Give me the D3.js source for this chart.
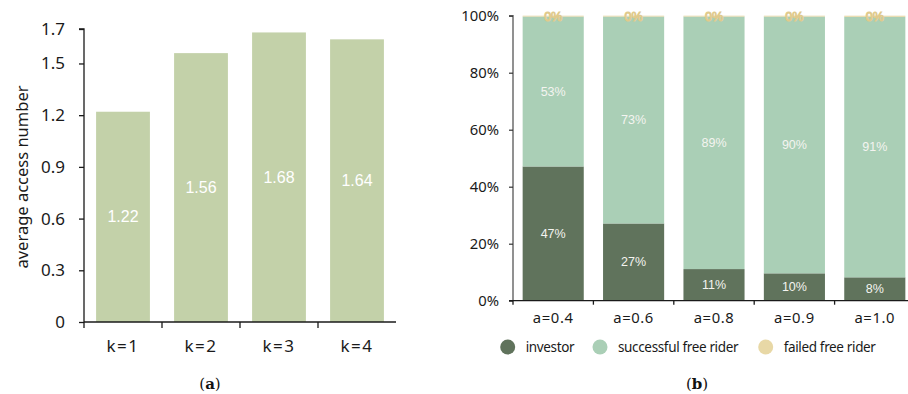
<!DOCTYPE html>
<html>
<head>
<meta charset="utf-8">
<script src="https://cdn.jsdelivr.net/npm/d3@7"></script>
<style>
  html, body { margin: 0; padding: 0; background: #fff; }
  svg { display: block; }
</style>
</head>
<body>
<svg id="chart" width="908" height="394"></svg>
<script>
// Panel (a): average access number per k
const kLabels = ["k=1", "k=2", "k=3", "k=4"];
const accessValues = [1.22, 1.56, 1.68, 1.64];
const accessTicks = [0, 0.3, 0.6, 0.9, 1.2, 1.5, 1.7];

// Panel (b): share of agent types per a
const aLabels = ["a=0.4", "a=0.6", "a=0.8", "a=0.9", "a=1.0"];
const investorShare = [47.1, 27.1, 11.1, 9.6, 8.2];
const successShare = [52.6, 72.6, 88.6, 90.1, 91.4];
const failedShare = [0.3, 0.3, 0.3, 0.3, 0.4];
const seriesNames = ["investor", "successful free rider", "failed free rider"];
const percentTicks = [0, 0.2, 0.4, 0.6, 0.8, 1.0];

const svg = d3.select("#chart");
const sansFont = '"Noto Sans", "Open Sans", sans-serif';
const labelFont = '"Liberation Sans", Arial, sans-serif';
const ink = "#1a1a1a";

function styleTickText(sel, size, spacing) {
  sel.selectAll(".tick text")
    .attr("font-family", sansFont)
    .attr("font-size", size)
    .attr("letter-spacing", spacing || 0)
    .attr("fill", ink);
}

// ---------- panel (a) ----------
const ga = svg.append("g");
const xa = d3.scaleBand().domain(kLabels).range([84, 396]).paddingInner(0.31).paddingOuter(0.155);
const ya = d3.scaleLinear().domain([0, 1.7]).range([322, 29]);

ga.selectAll("rect.bar")
  .data(accessValues)
  .join("rect")
  .attr("class", "bar")
  .attr("x", (d, i) => xa(kLabels[i]))
  .attr("width", xa.bandwidth())
  .attr("y", d => ya(d))
  .attr("height", d => ya(0) - ya(d))
  .attr("fill", "#c3d1a9");

ga.selectAll("text.val")
  .data(accessValues)
  .join("text")
  .attr("class", "val")
  .attr("x", (d, i) => xa(kLabels[i]) + xa.bandwidth() / 2)
  .attr("y", d => (ya(d) + ya(0)) / 2)
  .attr("dy", "0.35em")
  .attr("text-anchor", "middle")
  .attr("font-family", labelFont)
  .attr("font-size", 16)
  .attr("fill", "#ffffff")
  .text(d => d.toFixed(2));

const yAxisA = ga.append("g")
  .attr("transform", "translate(84,0)")
  .call(d3.axisLeft(ya).tickValues(accessTicks).tickSize(5).tickPadding(14)
    .tickFormat(d => d === 0 ? "0" : d3.format(".1f")(d)));
yAxisA.select(".domain").attr("stroke", ink).attr("stroke-width", 1.3).attr("d", "M-5,29H0V322");
yAxisA.selectAll(".tick line").attr("stroke", ink).attr("stroke-width", 1.3);
styleTickText(yAxisA, 17);

const xAxisA = ga.append("g")
  .attr("transform", "translate(0,322)")
  .call(d3.axisBottom(xa).tickSize(0).tickPadding(18));
xAxisA.select(".domain").attr("stroke", ink).attr("stroke-width", 1.3).attr("d", "M84,0H396");
styleTickText(xAxisA, 17, 1.5);
xAxisA.selectAll(".tick text").attr("dy", "0.71em");
// tick marks on band boundaries
xAxisA.selectAll("line.bound")
  .data(kLabels)
  .join("line")
  .attr("class", "bound")
  .attr("x1", d => xa(d) - xa.step() * 0.155)
  .attr("x2", d => xa(d) - xa.step() * 0.155)
  .attr("y1", 0).attr("y2", 6)
  .attr("stroke", ink).attr("stroke-width", 1.3);

ga.append("text")
  .attr("transform", "translate(22,177) rotate(-90)")
  .attr("text-anchor", "middle")
  .attr("dy", "0.35em")
  .attr("font-family", sansFont)
  .attr("font-size", 16.5)
  .attr("fill", ink)
  .text("average access number");

const capA = ga.append("text")
  .attr("x", 210).attr("y", 389)
  .attr("text-anchor", "middle")
  .attr("font-family", '"DejaVu Serif", "Liberation Serif", serif')
  .attr("font-size", 15)
  .attr("fill", "#111");
capA.append("tspan").text("(");
capA.append("tspan").attr("font-weight", "bold").text("a");
capA.append("tspan").text(")");

// ---------- panel (b) ----------
const gb = svg.append("g");
const xb = d3.scaleBand().domain(aLabels).range([513, 915]).paddingInner(0.24).paddingOuter(0.12);
const yb = d3.scaleLinear().domain([0, 1]).range([300.7, 15.7]);
const colors = ["#60735c", "#aacfb6", "#e8d8a6"];

const rows = aLabels.map((a, i) => {
  const total = investorShare[i] + successShare[i] + failedShare[i];
  return {
    a,
    investor: investorShare[i] / total,
    success: successShare[i] / total,
    failed: failedShare[i] / total
  };
});
const keys = ["investor", "success", "failed"];
const stacked = d3.stack().keys(keys)(rows);

const layers = gb.selectAll("g.layer")
  .data(stacked)
  .join("g")
  .attr("class", "layer")
  .attr("fill", (d, i) => colors[i]);

layers.selectAll("rect")
  .data(d => d)
  .join("rect")
  .attr("x", d => xb(d.data.a))
  .attr("width", xb.bandwidth())
  .attr("y", d => yb(d[1]))
  .attr("height", d => yb(d[0]) - yb(d[1]));

layers.each(function (layer, li) {
  const sel = d3.select(this).selectAll("text")
    .data(layer)
    .join("text")
    .attr("x", d => xb(d.data.a) + xb.bandwidth() / 2)
    .attr("y", d => (yb(d[0]) + yb(d[1])) / 2)
    .attr("dy", "0.35em")
    .attr("text-anchor", "middle")
    .attr("font-family", labelFont)
    .attr("font-size", 12.5)
    .text(d => Math.round((d[1] - d[0]) * 100) + "%");
  if (li === 2) {
    sel.attr("fill", "#fffdf4").attr("stroke", "#e0ca8c").attr("stroke-width", 1);
  } else {
    sel.attr("fill", "#f4f4f0");
  }
});

const yAxisB = gb.append("g")
  .attr("transform", "translate(513,0)")
  .call(d3.axisLeft(yb).tickValues(percentTicks).tickSize(4).tickPadding(10).tickFormat(d3.format(".0%")));
yAxisB.select(".domain").attr("stroke", "#6e6e6e").attr("stroke-width", 1.5).attr("d", "M-4,15.7H0V300.7");
yAxisB.selectAll(".tick line").attr("stroke", "#333").attr("stroke-width", 1.2);
styleTickText(yAxisB, 14.8);

const xAxisB = gb.append("g")
  .attr("transform", "translate(0,300.7)")
  .call(d3.axisBottom(xb).tickSize(0).tickPadding(12));
xAxisB.select(".domain").attr("stroke", ink).attr("stroke-width", 1.3).attr("d", "M509,0H908");
styleTickText(xAxisB, 14.8, 0.6);
xAxisB.selectAll(".tick text").attr("dy", "0.71em");
xAxisB.selectAll("line.bound")
  .data(aLabels)
  .join("line")
  .attr("class", "bound")
  .attr("x1", d => xb(d) - xb.step() * 0.12)
  .attr("x2", d => xb(d) - xb.step() * 0.12)
  .attr("y1", 0).attr("y2", 4)
  .attr("stroke", ink).attr("stroke-width", 1.3);

// legend
const legendX = [507.7, 600, 765.7];
const legend = gb.selectAll("g.legend")
  .data(seriesNames)
  .join("g")
  .attr("class", "legend")
  .attr("transform", (d, i) => `translate(${legendX[i]},347)`);
legend.append("circle").attr("r", 7.5).attr("fill", (d, i) => colors[i]);
legend.append("text")
  .attr("x", 18).attr("dy", "0.35em")
  .attr("font-family", sansFont)
  .attr("font-size", 13.5)
  .attr("letter-spacing", -0.35)
  .attr("fill", ink)
  .text(d => d);

const capB = gb.append("text")
  .attr("x", 697).attr("y", 389)
  .attr("text-anchor", "middle")
  .attr("font-family", '"DejaVu Serif", "Liberation Serif", serif')
  .attr("font-size", 15)
  .attr("fill", "#111");
capB.append("tspan").text("(");
capB.append("tspan").attr("font-weight", "bold").text("b");
capB.append("tspan").text(")");
</script>
</body>
</html>
